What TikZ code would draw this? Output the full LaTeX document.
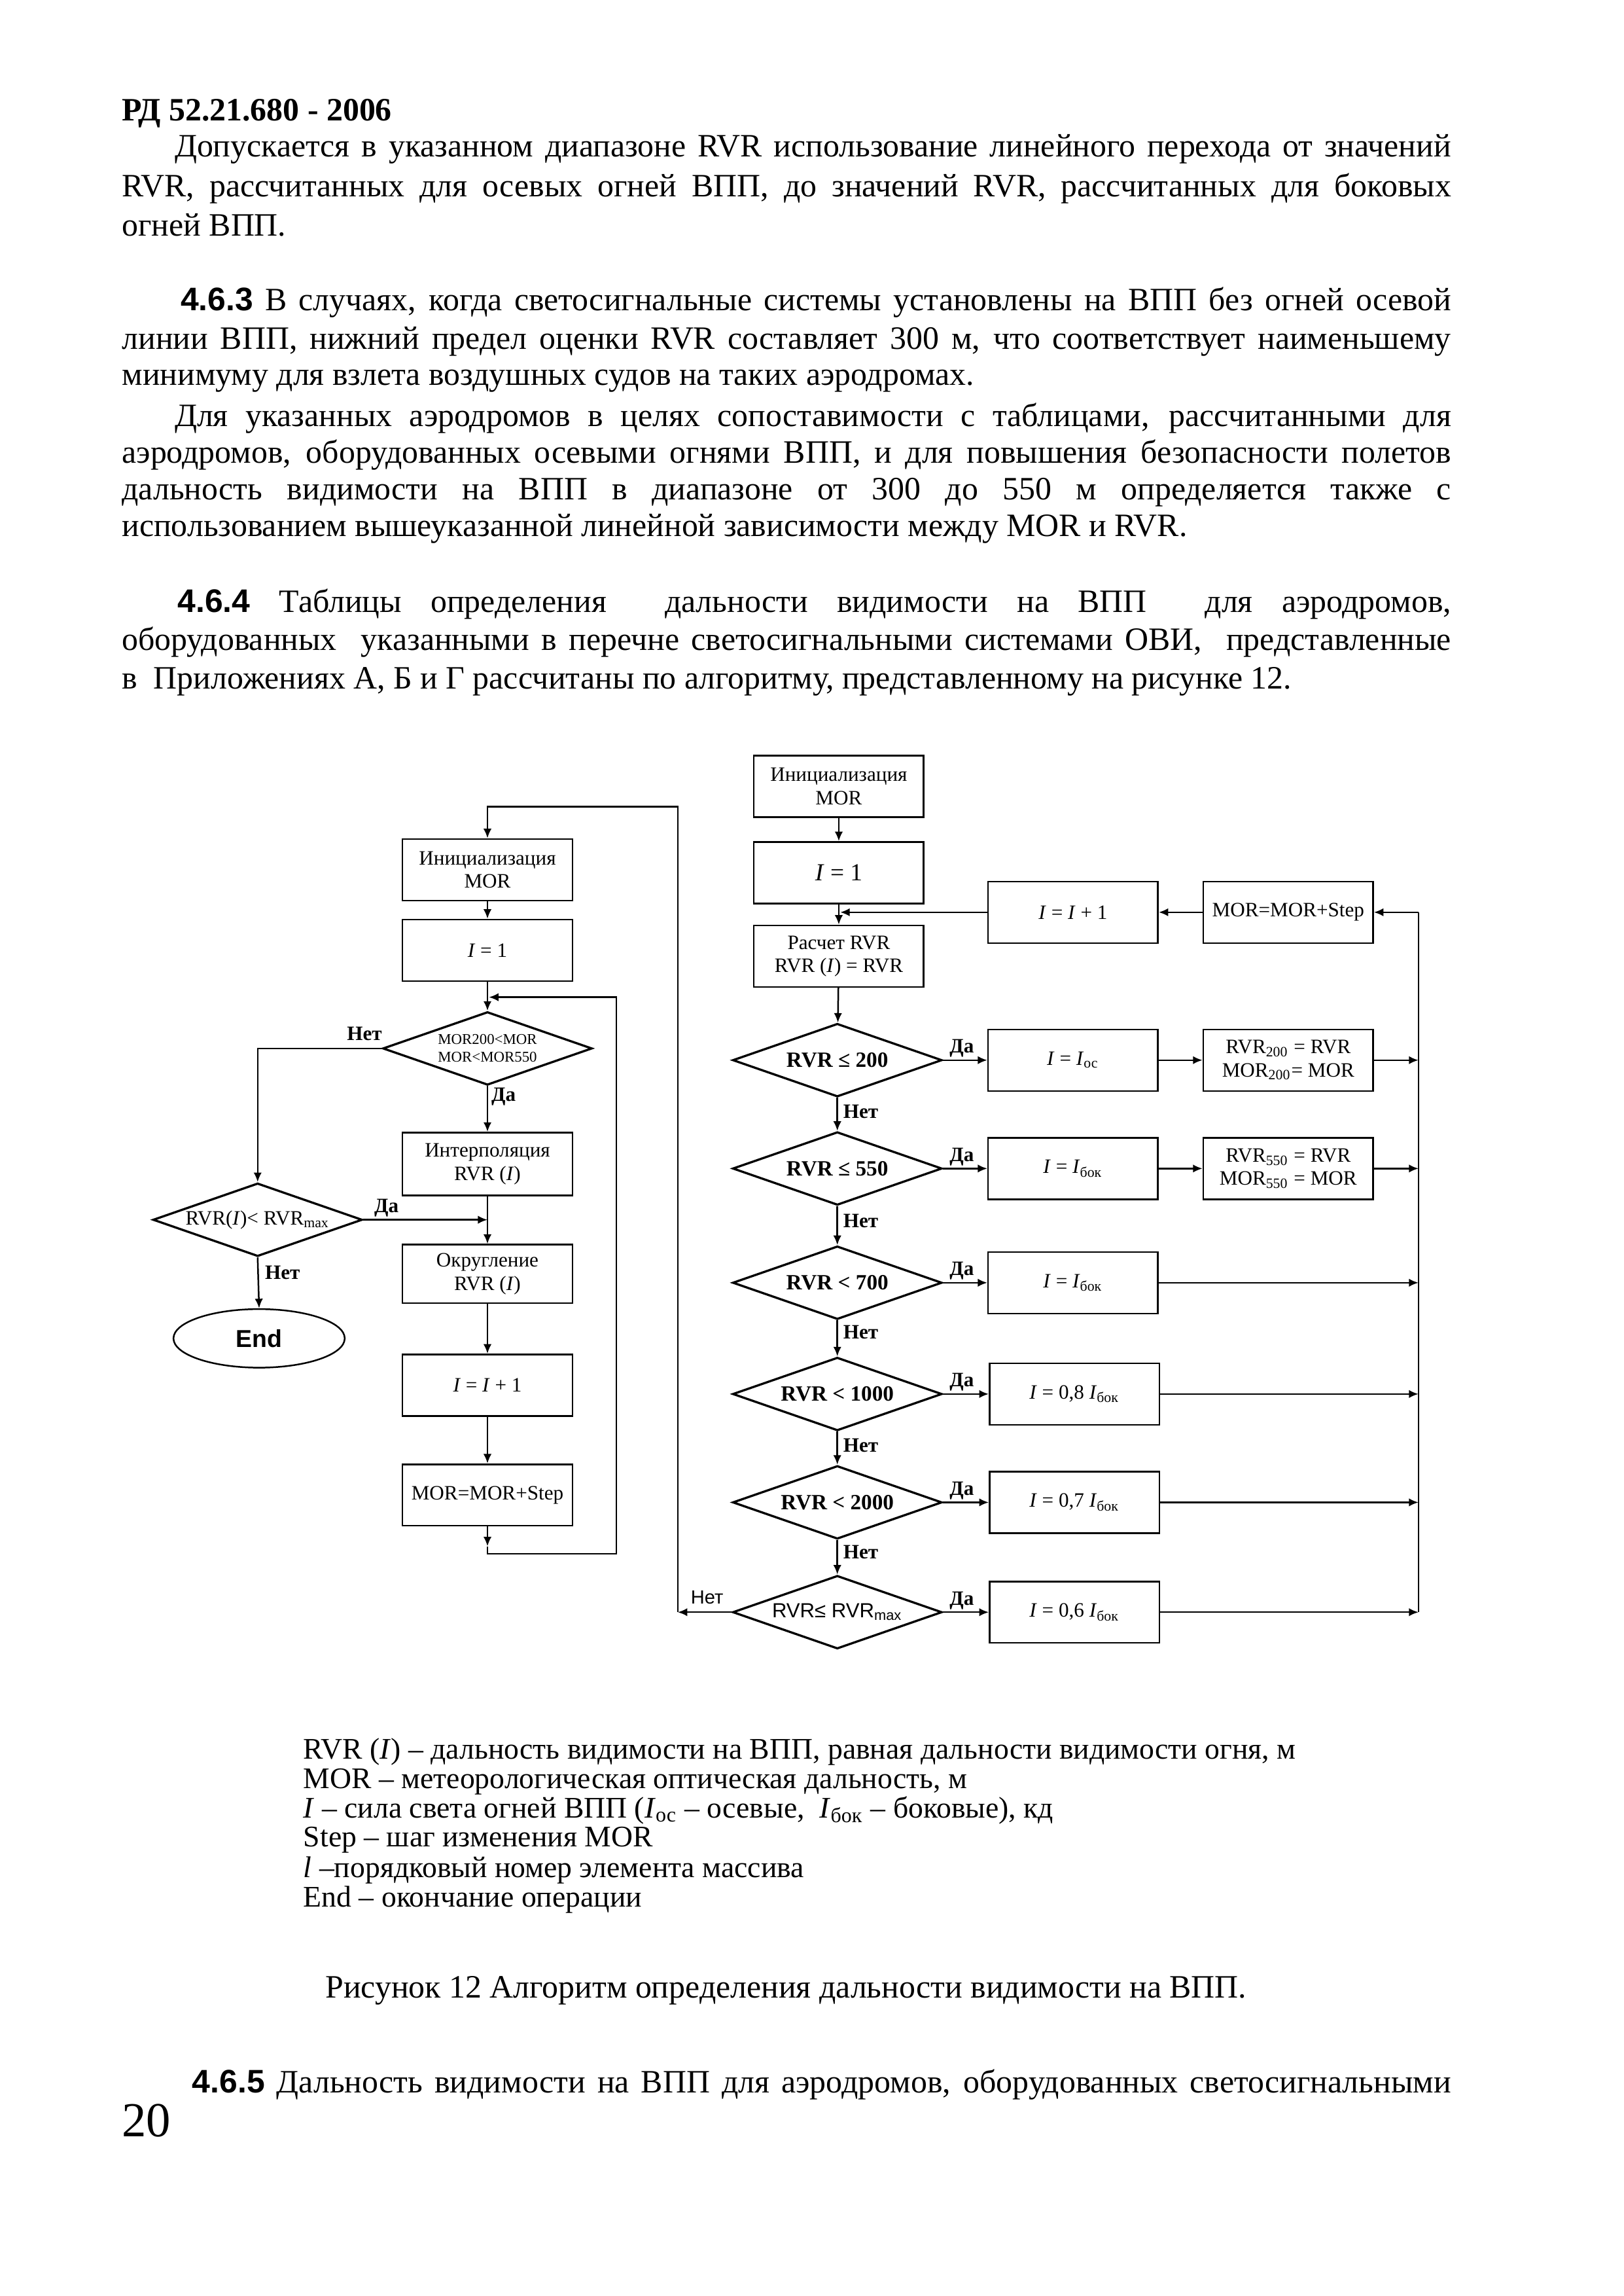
\documentclass[tikz,border=0pt]{standalone}
\usepackage{fontspec}
\setmainfont{Liberation Serif}
\setsansfont{Liberation Sans}
\usetikzlibrary{shapes.geometric,arrows.meta}
\def\ux{0.18936mm}
\newcommand\jline[4]{\node[body] (#1) at (#2,#3) {\hbox to \dimexpr\ux*(991-#2)\relax{#4}};}
\begin{document}
\begin{tikzpicture}[x=0.18936mm,y=-0.18936mm,
 body/.style={anchor=mid west,inner sep=0pt,font=\fontsize{12}{14}\selectfont},
 leg/.style={anchor=mid west,inner sep=0pt,font=\fontsize{11}{12}\selectfont},
 bx/.style={draw,line width=0.6pt,rectangle,inner sep=1pt,align=center,font=\fontsize{7.5}{8.5}\selectfont,minimum width=116*\ux,minimum height=42*\ux},
 dm/.style={draw,line width=0.8pt,diamond,aspect=2.86,inner sep=0pt,align=center,minimum width=143*\ux,minimum height=50*\ux,font=\fontsize{8}{9}\selectfont\bfseries},
 arr/.style={line width=0.6pt,-{Latex[length=3.5pt,width=3pt]}},
 ln/.style={line width=0.6pt},
 lbl/.style={inner sep=0pt,font=\fontsize{7.5}{8}\selectfont\bfseries}]
\fill[white] (0,0) rectangle (1109,1568);
\useasboundingbox (0,0) rectangle (1109,1568);

% ---------- body text ----------
\node[body,font=\fontsize{12}{14}\selectfont\bfseries] (hdr) at (83,78) {РД 52.21.680 - 2006};
\jline{t1}{119}{103}{Допускается в указанном диапазоне RVR использование линейного перехода от значений}
\jline{t2}{83}{130}{RVR, рассчитанных для осевых огней ВПП, до значений RVR, рассчитанных для боковых}
\node[body] (t3) at (83,157) {огней ВПП.};
\jline{t4}{123}{208}{{\sffamily\bfseries 4.6.3} В случаях, когда светосигнальные системы установлены на ВПП без огней осевой}
\jline{t5}{83}{234}{линии ВПП, нижний предел оценки RVR составляет 300 м, что соответствует наименьшему}
\node[body] (t6) at (83,259) {минимуму для взлета воздушных судов на таких аэродромах.};
\jline{t7}{119}{287}{Для указанных аэродромов в целях сопоставимости с таблицами, рассчитанными для}
\jline{t8}{83}{312}{аэродромов, оборудованных осевыми огнями ВПП, и для повышения безопасности полетов}
\jline{t9}{83}{337}{дальность видимости на ВПП в диапазоне от 300 до 550 м определяется также с}
\node[body] (t10) at (83,362) {использованием вышеуказанной линейной зависимости между MOR и RVR.};
\jline{t11}{121}{414}{{\sffamily\bfseries 4.6.4} Таблицы определения\ \ дальности видимости на ВПП\ \ для аэродромов,}
\jline{t12}{83}{440}{оборудованных\ \ указанными в перечне светосигнальными системами ОВИ,\ \ представленные}
\node[body] (t13) at (83,466) {в\ \ Приложениях А, Б и Г рассчитаны по алгоритму, представленному на рисунке 12.};

% ---------- left column ----------
\node[bx] (L1) at (333,594) {Инициализация\\MOR};
\node[bx] (L2) at (333,649) {\textit{I} = 1};
\node[dm,font=\fontsize{5.5}{6.5}\selectfont] (LD1) at (333,716) {MOR200<MOR\\MOR<MOR550};
\node[bx,minimum height=43*\ux] (L3) at (333,795) {Интерполяция\\RVR (\textit{I})};
\node[dm,font=\fontsize{7.5}{8}\selectfont] (LD2) at (176,833) {RVR(\textit{I})< RVR\textsubscript{max}};
\node[bx,minimum height=40*\ux] (L4) at (333,870) {Округление\\RVR (\textit{I})};
\node[draw,ellipse,line width=0.6pt,minimum width=117*\ux,minimum height=40*\ux,font=\fontsize{9}{10}\selectfont\sffamily\bfseries] (END) at (177,914) {End};
\node[bx] (L5) at (333,946) {\textit{I} = \textit{I} + 1};
\node[bx] (L6) at (333,1021) {MOR=MOR+Step};

\coordinate (jN) at (463,1101);
\coordinate (topL) at (463,551);
\coordinate (lpA) at (333,1056);
\coordinate (lpB) at (333,1061);
\coordinate (lpR) at (421,1061);
\coordinate (lpT) at (421,681);
\coordinate (lpE) at (334,681);
\coordinate (lj) at (333,833);

\draw[arr] (jN) -- (topL) -| (L1.north);
\draw[arr] (L1) -- (L2);
\draw[arr] (L2) -- (LD1);
\draw[arr] (L6.south) -- (lpA);
\draw[arr] (lpA) -- (lpB) -- (lpR) -- (lpT) -- (lpE);
\draw[arr] (LD1.west) -| (LD2.north);
\draw[arr] (LD1.south) -- (L3.north);
\draw[arr] (L3) -- (L4);
\draw[arr] (LD2.east) -- (lj);
\draw[arr] (LD2.south) -- (END.north);
\draw[arr] (L4) -- (L5);
\draw[arr] (L5) -- (L6);

\node[lbl] (n1) at (249,706) {Нет};
\node[lbl] (y1) at (344,749) {Да};
\node[lbl] (y2) at (264,825) {Да};
\node[lbl] (n2) at (193,869) {Нет};

% ---------- right column ----------
\node[bx] (R1) at (573,537) {Инициализация\\MOR};
\node[bx,font=\fontsize{9}{10}\selectfont] (R2) at (573,596) {\textit{I} = 1};
\node[bx] (R3) at (573,653) {Расчет RVR\\RVR (\textit{I}) = RVR};
\node[bx] (RB) at (733,623) {\textit{I} = \textit{I} + 1};
\node[bx] (RC) at (880,623) {MOR=MOR+Step};

\node[dm] (D1) at (572,724) {RVR ≤ 200};
\node[dm] (D2) at (572,798) {RVR ≤ 550};
\node[dm] (D3) at (572,876) {RVR < 700};
\node[dm] (D4) at (572,952) {RVR < 1000};
\node[dm] (D5) at (572,1026) {RVR < 2000};
\node[dm,font=\fontsize{7.5}{8}\selectfont\sffamily] (D6) at (572,1101) {RVR≤ RVR\textsubscript{max}};

\node[bx] (B1) at (733,724) {\textit{I} = \textit{I}\textsubscript{ос}};
\node[bx] (C1) at (880,724) {RVR\textsubscript{200} = RVR\\MOR\textsubscript{200}= MOR};
\node[bx] (B2) at (733,798) {\textit{I} = \textit{I}\textsubscript{бок}};
\node[bx] (C2) at (880,798) {RVR\textsubscript{550} = RVR\\MOR\textsubscript{550} = MOR};
\node[bx] (B3) at (733,876) {\textit{I} = \textit{I}\textsubscript{бок}};
\node[bx] (B4) at (734,952) {\textit{I} = 0,8 \textit{I}\textsubscript{бок}};
\node[bx] (B5) at (734,1026) {\textit{I} = 0,7 \textit{I}\textsubscript{бок}};
\node[bx] (B6) at (734,1101) {\textit{I} = 0,6 \textit{I}\textsubscript{бок}};

\coordinate (rj) at (574,623);
\coordinate (colT) at (969,623);
\coordinate (colB) at (969,1101);
\coordinate (k1) at (969,724);
\coordinate (k2) at (969,798);
\coordinate (k3) at (969,876);
\coordinate (k4) at (969,952);
\coordinate (k5) at (969,1026);
\coordinate (k6) at (969,1101);

\draw[arr] (R1) -- (R2);
\draw[arr] (R2) -- (R3);
\draw[arr] (RB.west) -- (rj);
\draw[arr] (RC.west) -- (RB.east);
\draw[ln] (colB) -- (colT);
\draw[arr] (colT) -- (RC.east);
\draw[arr] (R3) -- (D1);
\draw[arr] (D1) -- (D2);
\draw[arr] (D2) -- (D3);
\draw[arr] (D3) -- (D4);
\draw[arr] (D4) -- (D5);
\draw[arr] (D5) -- (D6);
\draw[arr] (D1.east) -- (B1.west);
\draw[arr] (D2.east) -- (B2.west);
\draw[arr] (D3.east) -- (B3.west);
\draw[arr] (D4.east) -- (B4.west);
\draw[arr] (D5.east) -- (B5.west);
\draw[arr] (D6.east) -- (B6.west);
\draw[arr] (B1) -- (C1);
\draw[arr] (B2) -- (C2);
\draw[arr] (C1.east) -- (k1);
\draw[arr] (C2.east) -- (k2);
\draw[arr] (B3.east) -- (k3);
\draw[arr] (B4.east) -- (k4);
\draw[arr] (B5.east) -- (k5);
\draw[arr] (B6.east) -- (k6);
\draw[arr] (D6.west) -- (jN);

\node[lbl] (ya1) at (657,716) {Да};
\node[lbl] (ya2) at (657,790) {Да};
\node[lbl] (ya3) at (657,868) {Да};
\node[lbl] (ya4) at (657,944) {Да};
\node[lbl] (ya5) at (657,1018) {Да};
\node[lbl] (ya6) at (657,1093) {Да};
\node[lbl] (na1) at (588,759) {Нет};
\node[lbl] (na2) at (588,834) {Нет};
\node[lbl] (na3) at (588,910) {Нет};
\node[lbl] (na4) at (588,987) {Нет};
\node[lbl] (na5) at (588,1060) {Нет};
\node[inner sep=0pt,font=\fontsize{7}{8}\selectfont\sffamily] (na6) at (483,1091) {Нет};

% ---------- legend and caption ----------
\node[leg] (g1) at (207,1197) {RVR (\textit{I}) – дальность видимости на ВПП, равная дальности видимости огня, м};
\node[leg] (g2) at (207,1217) {MOR – метеорологическая оптическая дальность, м};
\node[leg] (g3) at (207,1237) {\textit{I} – сила света огней ВПП (\textit{I}\textsubscript{ос} – осевые,\ \ \textit{I}\textsubscript{бок} – боковые), кд};
\node[leg] (g4) at (207,1257) {Step – шаг изменения MOR};
\node[leg] (g5) at (207,1278) {\textit{l} –порядковый номер элемента массива};
\node[leg] (g6) at (207,1298) {End – окончание операции};
\node[body] (cap) at (222,1360) {Рисунок 12 Алгоритм определения дальности видимости на ВПП.};
\jline{t14}{131}{1425}{{\sffamily\bfseries 4.6.5} Дальность видимости на ВПП для аэродромов, оборудованных светосигнальными}
\node[body,font=\fontsize{18}{20}\selectfont] (pg) at (83,1455) {20};
\end{tikzpicture}
\end{document}
